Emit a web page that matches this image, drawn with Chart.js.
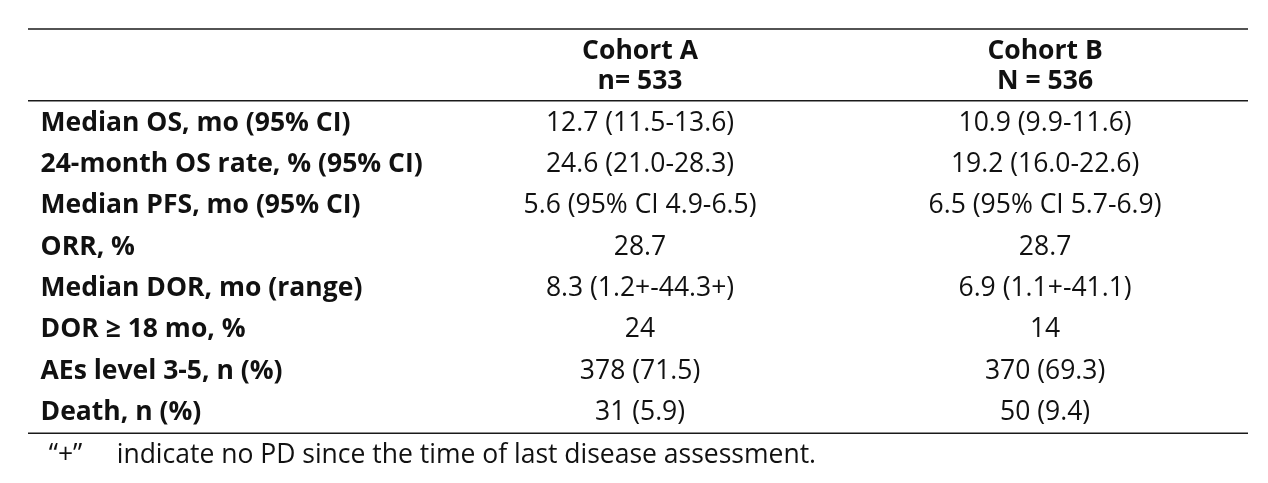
<!DOCTYPE html>
<html lang="en">
<head>
    <meta charset="UTF-8">
    <title>Cohort A vs Cohort B</title>
    <script src="https://cdn.jsdelivr.net/npm/chart.js"></script>
    <style>
        body { margin: 0; background: #fff; }
        #wrap { width: 1268px; height: 483px; }
    </style>
</head>
<body>
    <div id="wrap"><canvas id="myChart"></canvas></div>
    <script>
        // table content
        const rowLabels = [
            'Median OS, mo (95% CI)',
            '24-month OS rate, % (95% CI)',
            'Median PFS, mo (95% CI)',
            'ORR, %',
            'Median DOR, mo (range)',
            'DOR \u2265 18 mo, %',
            'AEs level 3-5, n (%)',
            'Death, n (%)'
        ];
        const cohortAHeader = ['Cohort A', 'n= 533'];
        const cohortBHeader = ['Cohort B', 'N = 536'];
        const cohortA = ['12.7 (11.5-13.6)', '24.6 (21.0-28.3)', '5.6 (95% CI 4.9-6.5)', '28.7',
                         '8.3 (1.2+-44.3+)', '24', '378 (71.5)', '31 (5.9)'];
        const cohortB = ['10.9 (9.9-11.6)', '19.2 (16.0-22.6)', '6.5 (95% CI 5.7-6.9)', '28.7',
                         '6.9 (1.1+-41.1)', '14', '370 (69.3)', '50 (9.4)'];
        const footnote = '\u201c+\u201d     indicate no PD since the time of last disease assessment.';

        const FONT = "'Open Sans', 'Noto Sans', sans-serif";
        const SIZE = 26.5;
        const HEADER_ROW = -1.38;
        const RULE_ROW = -0.51;

        function points(x, n) {
            const out = [];
            for (let i = 0; i < n; i++) out.push({ x: x, y: i });
            return out;
        }

        // writes the text of each cell at the point the scales give it
        const cellText = {
            id: 'cellText',
            afterDatasetsDraw(chart) {
                const ctx = chart.ctx;
                const area = chart.chartArea;
                const ys = chart.scales.y;
                ctx.save();

                // rules
                ctx.strokeStyle = '#1a1a1a';
                ctx.lineWidth = 1.5;
                [area.top, ys.getPixelForValue(RULE_ROW), area.bottom].forEach(function(y) {
                    ctx.beginPath();
                    ctx.moveTo(area.left, y);
                    ctx.lineTo(area.right, y);
                    ctx.stroke();
                });

                ctx.fillStyle = '#111';
                ctx.textBaseline = 'middle';
                chart.data.datasets.forEach(function(ds, di) {
                    const meta = chart.getDatasetMeta(di);
                    ctx.font = (ds.bold ? 'bold ' : '') + SIZE + 'px ' + FONT;
                    ctx.textAlign = ds.align;
                    meta.data.forEach(function(pt, i) {
                        const txt = ds.texts[i];
                        const y = pt.y + 1.5;
                        if (Array.isArray(txt)) {
                            ctx.fillText(txt[0], pt.x, y - 15);
                            ctx.fillText(txt[1], pt.x, y + 15);
                        } else {
                            ctx.fillText(txt, pt.x, y);
                        }
                    });
                });
                ctx.restore();
            }
        };

        const ctx = document.getElementById('myChart').getContext('2d');
        const myChart = new Chart(ctx, {
            type: 'scatter',
            data: {
                datasets: [{
                    label: 'rows',
                    data: points(-0.48, rowLabels.length),
                    texts: rowLabels,
                    bold: true,
                    align: 'left'
                }, {
                    label: 'Cohort A',
                    data: points(1, cohortA.length),
                    texts: cohortA,
                    bold: false,
                    align: 'center'
                }, {
                    label: 'Cohort B',
                    data: points(2, cohortB.length),
                    texts: cohortB,
                    bold: false,
                    align: 'center'
                }, {
                    label: 'header',
                    data: [{ x: 1, y: HEADER_ROW }, { x: 2, y: HEADER_ROW }],
                    texts: [cohortAHeader, cohortBHeader],
                    bold: true,
                    align: 'center'
                }]
            },
            options: {
                responsive: true,
                maintainAspectRatio: false,
                animation: false,
                layout: { padding: { top: 29, left: 28, right: 20, bottom: 4 } },
                elements: { point: { radius: 0, hoverRadius: 0 } },
                scales: {
                    x: { type: 'linear', display: false, min: -0.511, max: 2.501 },
                    y: { type: 'linear', display: false, reverse: true, min: -2.252, max: 7.545 }
                },
                plugins: {
                    legend: { display: false },
                    tooltip: { enabled: false },
                    title: {
                        display: true,
                        position: 'bottom',
                        align: 'start',
                        text: '   ' + footnote,
                        color: '#111',
                        font: { family: FONT, size: SIZE, weight: 'normal' },
                        padding: { top: 6, bottom: 8 }
                    }
                }
            },
            plugins: [cellText]
        });
    </script>
</body>
</html>
